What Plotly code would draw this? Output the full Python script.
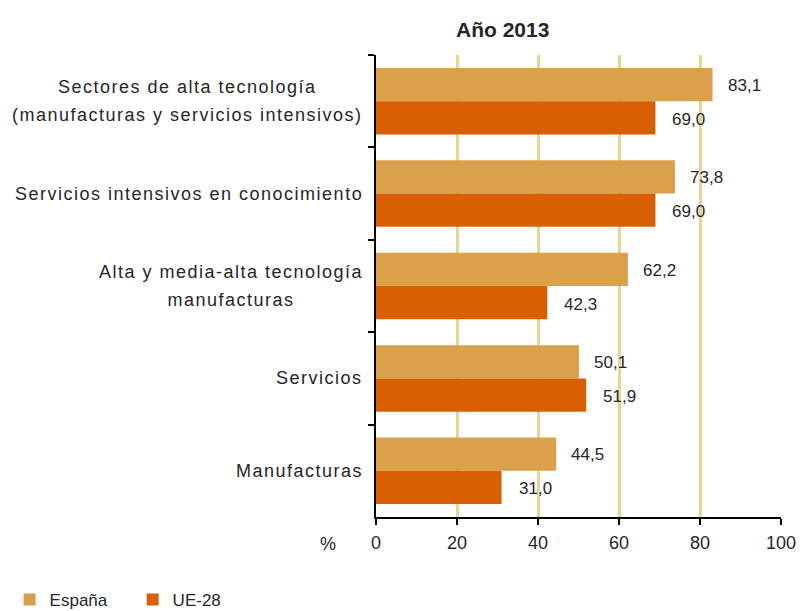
import plotly.graph_objects as go

# ---- data ----
categorias = [
    "Sectores de alta tecnología<br>(manufacturas y servicios intensivos)",
    "Servicios intensivos en conocimiento",
    "Alta y media-alta tecnología<br>manufacturas",
    "Servicios",
    "Manufacturas",
]
espana = [83.1, 73.8, 62.2, 50.1, 44.5]
ue28 = [69.0, 69.0, 42.3, 51.9, 31.0]
x_ticks = [0, 20, 40, 60, 80, 100]
titulo = "Año 2013"
nombre_espana = "España"
nombre_ue = "UE-28"

# ---- styles ----
FONT = "Liberation Sans, Arial, sans-serif"
C_ESP = "#DBA04C"
C_UE = "#D95F02"
GRID = "#E6D595"
TXT = "#262626"
LS = "font-size:18px;letter-spacing:1.5px"

fig = go.Figure()
fig.add_trace(go.Bar(y=categorias, x=espana, orientation="h", name=nombre_espana,
                     marker=dict(color=C_ESP, line=dict(width=0))))
fig.add_trace(go.Bar(y=categorias, x=ue28, orientation="h", name=nombre_ue,
                     marker=dict(color=C_UE, line=dict(width=0))))

def fmt(v):
    return f"{v:.1f}".replace(".", ",")

ann = []
for c, v in zip(categorias, espana):
    ann.append(dict(x=v, y=c, xref="x", yref="y", text=fmt(v), showarrow=False,
                    xanchor="left", yanchor="middle", xshift=13, yshift=16,
                    font=dict(family=FONT, size=17, color=TXT)))
for c, v in zip(categorias, ue28):
    ann.append(dict(x=v, y=c, xref="x", yref="y", text=fmt(v), showarrow=False,
                    xanchor="left", yanchor="middle", xshift=15, yshift=-18,
                    font=dict(family=FONT, size=17, color=TXT)))
# category labels (centered multi-line)
for c in categorias:
    lines = c.split("<br>")
    txt = "<br>".join(f"<span style='{LS}'>{ln}</span>" for ln in lines)
    ann.append(dict(x=0, y=c, xref="paper", yref="y", text=txt,
                    showarrow=False, xanchor="right", yanchor="middle", align="center",
                    xshift=-11, font=dict(family=FONT, size=21.5, color=TXT)))
# title
ann.append(dict(x=0.313, y=1, xref="paper", yref="paper", yshift=26, text="<b>" + titulo + "</b>",
                showarrow=False, xanchor="center", yanchor="middle",
                font=dict(family=FONT, size=21, color=TXT)))
# % label
ann.append(dict(x=0, y=0, xref="paper", yref="paper", xshift=-48, yshift=-27, text="%",
                showarrow=False, xanchor="center", yanchor="middle",
                font=dict(family=FONT, size=18, color=TXT)))

fig.update_layout(
    width=802, height=611,
    margin=dict(l=376, r=21, t=55, b=94, autoexpand=False),
    paper_bgcolor="white", plot_bgcolor="white",
    barmode="group", bargap=0.28, bargroupgap=0.0,
    font=dict(family=FONT, size=18, color=TXT),
    annotations=ann,
    showlegend=True,
    legend=dict(orientation="h", xref="container", yref="container",
                x=0.012, y=0.018, xanchor="left", yanchor="middle",
                traceorder="normal", itemwidth=30, entrywidth=78,
                font=dict(family=FONT, size=17, color=TXT)),
)
fig.update_xaxes(range=[0, 100], tickvals=x_ticks, ticktext=[str(t) for t in x_ticks],
                 showgrid=True, gridcolor=GRID, gridwidth=3, zeroline=False,
                 showline=True, linecolor="black", linewidth=1.5,
                 ticks="outside", ticklen=6, tickcolor="black", tickwidth=1.5,
                 ticklabelstandoff=3,
                 tickfont=dict(family=FONT, size=18, color=TXT))
fig.update_yaxes(type="category", autorange="reversed", showticklabels=False,
                 showline=True, linecolor="black", linewidth=1.5,
                 ticks="outside", tickson="boundaries", ticklen=6, tickcolor="black", tickwidth=1.5,
                 showgrid=False, zeroline=False)

fig.write_html("out.html", config={"displayModeBar": False},
               post_script="document.body.style.margin='0';document.body.style.overflow='hidden';")
